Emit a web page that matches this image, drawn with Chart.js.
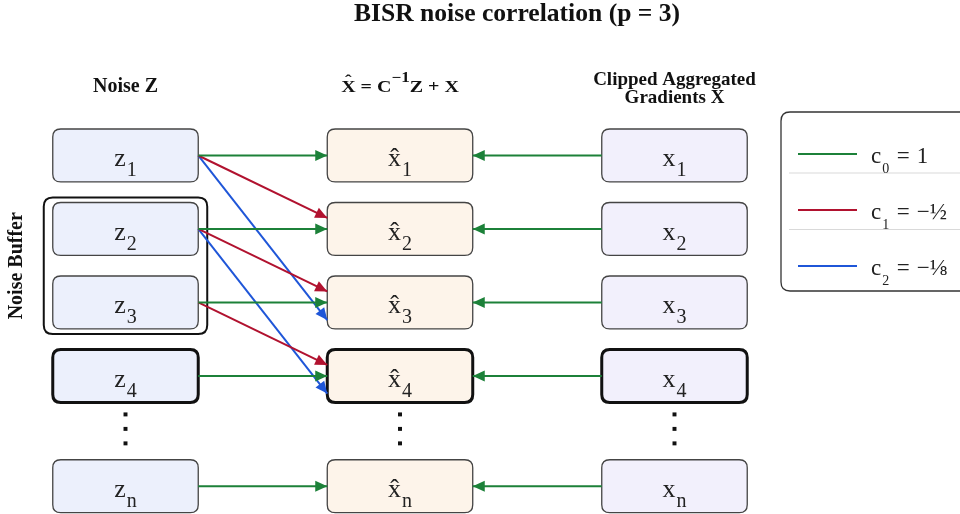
<!DOCTYPE html>
<html>
<head>
<meta charset="utf-8">
<script src="https://cdn.jsdelivr.net/npm/chart.js@4.4.0/dist/chart.umd.min.js"></script>
<style>
  html, body { margin: 0; padding: 0; background: #fff; }
  #chart { display: block; }
</style>
</head>
<body>
<canvas id="chart" width="960" height="514"></canvas>
<script>
// what the diagram shows
const bufferSize = 3; // p
const rowNames = ["1", "2", "3", "4", "n"];
const bufferRows = ["2", "3"];
const currentRow = "4";
const columnLetters = ["z", "x\u0302", "x"];
const columnTitles = ["Noise Z", "X\u0302 = C\u207B\u00B9Z + X", "Clipped Aggregated\nGradients X"];
const coeffLags = [0, 1, 2];
const coeffNames = ["c0", "c1", "c2"];
const coeffValues = ["1", "\u2212\u00BD", "\u2212\u215B"];

// layout / style
const SERIF = '"Liberation Serif", "Times New Roman", serif';
const rowSlot = { "1": 0, "2": 1, "3": 2, "4": 3, "n": 4.5 };
const dotsSlot = 3.72;
const dotGap = 0.197;
const BOX_W = 0.265;
const BOX_H = 0.36;
const lagOffset = [0, -0.15, 0.24];
const coeffColors = ["#1c8139", "#b1122f", "#1f56d8"];
const boxFills = ["#ecf0fc", "#fdf4ea", "#f2f0fc"];

function slotOf(r) { return rowSlot[r]; }

// arrows: z_i -> x̂_(i+lag), and x_i -> x̂_i
const datasets = [];
coeffLags.forEach(lag => {
  rowNames.forEach(r => {
    const t = r === "n" ? (lag === 0 ? "n" : null) : String(Number(r) + lag);
    if (!t || !rowNames.includes(t)) return;
    datasets.push({
      type: "scatter", showLine: true, arrow: true,
      data: [{ x: 0 + BOX_W, y: slotOf(r) }, { x: 1 - BOX_W, y: slotOf(t) + lagOffset[lag] }],
      borderColor: coeffColors[lag], backgroundColor: coeffColors[lag],
      borderWidth: 2, pointRadius: 0,
    });
  });
});
rowNames.forEach(r => {
  datasets.push({
    type: "scatter", showLine: true, arrow: true,
    data: [{ x: 2 - BOX_W, y: slotOf(r) }, { x: 1 + BOX_W, y: slotOf(r) }],
    borderColor: coeffColors[0], backgroundColor: coeffColors[0],
    borderWidth: 2, pointRadius: 0,
  });
});
// vertical ellipsis in each column
const dots = [];
[0, 1, 2].forEach(c => [-1, 0, 1].forEach(k => dots.push({ x: c, y: dotsSlot + k * dotGap })));
datasets.push({
  type: "scatter", data: dots, pointStyle: "rect", pointRadius: 2.8,
  backgroundColor: "#111", borderWidth: 0,
});

function roundRect(ctx, x, y, w, h, r) {
  ctx.beginPath();
  ctx.moveTo(x + r, y);
  ctx.lineTo(x + w - r, y);
  ctx.quadraticCurveTo(x + w, y, x + w, y + r);
  ctx.lineTo(x + w, y + h - r);
  ctx.quadraticCurveTo(x + w, y + h, x + w - r, y + h);
  ctx.lineTo(x + r, y + h);
  ctx.quadraticCurveTo(x, y + h, x, y + h - r);
  ctx.lineTo(x, y + r);
  ctx.quadraticCurveTo(x, y, x + r, y);
  ctx.closePath();
}

function drawLabel(ctx, cx, cy, letter, sub) {
  const hat = letter.includes("\u0302");
  const base = letter[0];
  ctx.font = `26px ${SERIF}`;
  const wm = ctx.measureText(base).width;
  ctx.font = `20px ${SERIF}`;
  const ws = ctx.measureText(sub).width;
  const x0 = cx - (wm + ws + 1) / 2;
  ctx.fillStyle = "#222";
  ctx.textBaseline = "alphabetic";
  ctx.textAlign = "left";
  ctx.font = `26px ${SERIF}`;
  ctx.fillText(base, x0, cy + 11);
  if (hat) {
    ctx.textAlign = "center";
    ctx.fillText("\u02C6", x0 + wm / 2, cy + 11);
    ctx.textAlign = "left";
  }
  ctx.font = `20px ${SERIF}`;
  ctx.fillText(sub, x0 + wm + 1, cy + 21);
}

const diagramPlugin = {
  id: "diagram",
  beforeDatasetsDraw(chart) {
    const ctx = chart.ctx;
    const xs = chart.scales.x, ys = chart.scales.y;
    const px = v => xs.getPixelForValue(v);
    const py = v => ys.getPixelForValue(v);
    ctx.save();

    // title
    ctx.fillStyle = "#111";
    ctx.textAlign = "center";
    ctx.textBaseline = "alphabetic";
    ctx.font = `bold 25.6px ${SERIF}`;
    ctx.fillText(`BISR noise correlation (p = ${bufferSize})`, 517, 21);

    // noise buffer frame
    const bTop = py(slotOf(bufferRows[0]) - BOX_H) - 5;
    const bBot = py(slotOf(bufferRows[bufferRows.length - 1]) + BOX_H) + 5;
    const bL = px(-BOX_W) - 9, bR = px(BOX_W) + 9;
    roundRect(ctx, bL, bTop, bR - bL, bBot - bTop, 9);
    ctx.lineWidth = 2;
    ctx.strokeStyle = "#111";
    ctx.stroke();

    // boxes
    columnLetters.forEach((letter, c) => {
      rowNames.forEach(r => {
        const x0 = px(c - BOX_W), x1 = px(c + BOX_W);
        const y0 = py(slotOf(r) - BOX_H), y1 = py(slotOf(r) + BOX_H);
        roundRect(ctx, x0, y0, x1 - x0, y1 - y0, 8);
        ctx.fillStyle = boxFills[c];
        ctx.fill();
        ctx.lineWidth = r === currentRow ? 3 : 1.3;
        ctx.strokeStyle = r === currentRow ? "#111" : "#444";
        ctx.stroke();
        drawLabel(ctx, px(c), py(slotOf(r)), letter, r);
      });
    });

    // column headers
    const top = py(slotOf(rowNames[0]) - BOX_H);
    ctx.fillStyle = "#111";
    ctx.textAlign = "center";
    ctx.textBaseline = "alphabetic";
    ctx.font = `bold 20px ${SERIF}`;
    ctx.fillText(columnTitles[0], px(0), top - 37);
    const lines = columnTitles[2].split("\n");
    ctx.font = `bold 19px ${SERIF}`;
    ctx.fillText(lines[0], px(2), top - 44);
    ctx.fillText(lines[1], px(2), top - 26);

    // formula header, drawn in pieces
    const parts = columnTitles[1].split("\u207B\u00B9");
    const left = parts[0].replace("\u0302", ""), right = parts[1];
    ctx.save();
    ctx.translate(px(1), top - 37);
    ctx.scale(1, 0.85);
    ctx.font = `bold 20px ${SERIF}`;
    const wl = ctx.measureText(left).width, wr = ctx.measureText(right).width;
    ctx.font = `bold 17px ${SERIF}`;
    const wsup = ctx.measureText("\u22121").width;
    let x = -(wl + wsup + wr) / 2;
    ctx.textAlign = "left";
    ctx.font = `bold 20px ${SERIF}`;
    ctx.fillText(left, x, 0);
    const wX = ctx.measureText(left[0]).width;
    ctx.textAlign = "center";
    ctx.fillText("\u02C6", x + wX / 2, -7);
    ctx.textAlign = "left";
    x += wl;
    ctx.font = `bold 17px ${SERIF}`;
    ctx.fillText("\u22121", x, -12);
    x += wsup;
    ctx.font = `bold 20px ${SERIF}`;
    ctx.fillText(right, x, 0);
    ctx.restore();

    // side label
    ctx.save();
    ctx.translate(17, (bTop + bBot) / 2);
    ctx.rotate(-Math.PI / 2);
    ctx.textAlign = "center";
    ctx.textBaseline = "middle";
    ctx.font = `bold 20px ${SERIF}`;
    ctx.fillText("Noise Buffer", 0, 0);
    ctx.restore();

    // legend
    const lx = 781, ly = 112, lh = 179;
    roundRect(ctx, lx, ly, 200, lh, 9);
    ctx.fillStyle = "#fff";
    ctx.fill();
    ctx.lineWidth = 1.3;
    ctx.strokeStyle = "#333";
    ctx.stroke();
    ctx.strokeStyle = "#d9d9d9";
    ctx.lineWidth = 1;
    [61, 117.5].forEach(d => {
      ctx.beginPath();
      ctx.moveTo(789, ly + d);
      ctx.lineTo(960, ly + d);
      ctx.stroke();
    });
    coeffNames.forEach((name, i) => {
      const y = ly + 42 + 56 * i;
      ctx.beginPath();
      ctx.moveTo(798, y);
      ctx.lineTo(857, y);
      ctx.lineWidth = 2;
      ctx.strokeStyle = coeffColors[i];
      ctx.stroke();
      ctx.fillStyle = "#222";
      ctx.textAlign = "left";
      ctx.textBaseline = "alphabetic";
      let tx = 871;
      ctx.font = `23px ${SERIF}`;
      ctx.fillText(name[0], tx, y + 9.3);
      tx += ctx.measureText(name[0]).width + 1;
      ctx.font = `14px ${SERIF}`;
      ctx.fillText(name.slice(1), tx, y + 19.3);
      tx += ctx.measureText(name.slice(1)).width + 7.5;
      ctx.font = `23px ${SERIF}`;
      ctx.fillText("=", tx, y + 9.3);
      tx += ctx.measureText("=").width + 7;
      ctx.fillText(coeffValues[i], tx, y + 9.3);
    });

    ctx.restore();
  },
  afterDatasetsDraw(chart) {
    const ctx = chart.ctx;
    ctx.save();
    chart.data.datasets.forEach((ds, i) => {
      if (!ds.arrow) return;
      const pts = chart.getDatasetMeta(i).data;
      const a = pts[pts.length - 2], b = pts[pts.length - 1];
      const ang = Math.atan2(b.y - a.y, b.x - a.x);
      const len = 12, hw = 5.5;
      ctx.beginPath();
      ctx.moveTo(b.x, b.y);
      ctx.lineTo(b.x - len * Math.cos(ang) + hw * Math.sin(ang), b.y - len * Math.sin(ang) - hw * Math.cos(ang));
      ctx.lineTo(b.x - len * Math.cos(ang) - hw * Math.sin(ang), b.y - len * Math.sin(ang) + hw * Math.cos(ang));
      ctx.closePath();
      ctx.fillStyle = ds.borderColor;
      ctx.fill();
    });
    ctx.restore();
  },
};

new Chart(document.getElementById("chart"), {
  type: "scatter",
  data: { datasets: datasets },
  options: {
    responsive: false,
    animation: false,
    events: [],
    layout: { padding: { top: 32, left: 0, right: 0, bottom: 0 }, autoPadding: false },
    scales: {
      x: { type: "linear", display: false, min: -0.4572, max: 3.0401 },
      y: { type: "linear", display: false, reverse: true, min: -1.680, max: 4.878 },
    },
    plugins: {
      legend: { display: false },
      tooltip: { enabled: false },
      title: { display: false },
    },
  },
  plugins: [diagramPlugin],
});
</script>
</body>
</html>
